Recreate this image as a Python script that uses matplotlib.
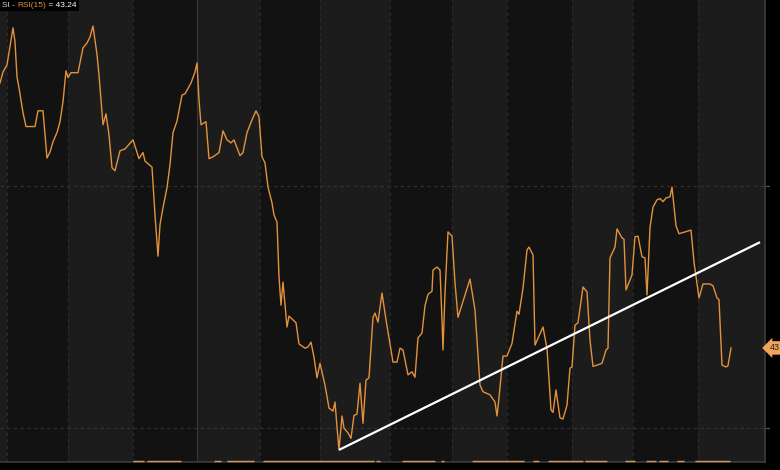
import matplotlib.pyplot as plt
import numpy as np
from matplotlib.offsetbox import TextArea, HPacker, AnchoredOffsetbox

# RSI(15) trace: bar position and value
t = [0, 3, 7, 9, 13, 15, 17, 19, 23, 26, 35, 38, 43, 47, 50, 53, 57, 60, 63, 66,
     68, 71, 78, 83, 87, 90, 93, 97, 99, 103, 106, 109, 112, 115, 120, 125, 133, 139, 143, 145,
     152, 155, 158, 160, 163, 167, 170, 173, 177, 182, 185, 191, 195, 197, 199, 201, 206, 209, 213, 219,
     223, 227, 231, 234, 240, 243, 247, 252, 256, 259, 262, 265, 268, 272, 274, 277, 279, 281, 283, 287,
     289, 296, 299, 305, 308, 311, 314, 317, 320, 325, 329, 333, 335, 337, 339, 342, 344, 348, 351, 354,
     357, 360, 363, 366, 369, 373, 375, 378, 382, 386, 393, 397, 400, 403, 408, 412, 415, 418, 422, 425,
     428, 432, 433, 437, 440, 442, 443, 445, 448, 452, 455, 458, 465, 470, 475, 480, 483, 490, 495, 497,
     499, 503, 507, 512, 517, 519, 523, 527, 529, 533, 535, 543, 547, 551, 553, 556, 560, 563, 567, 570,
     572, 575, 578, 583, 587, 590, 593, 597, 602, 606, 608, 610, 615, 617, 622, 624, 626, 632, 635, 638,
     642, 645, 647, 650, 653, 657, 660, 663, 666, 670, 672, 676, 679, 685, 691, 694, 699, 703, 710, 713,
     717, 719, 722, 726, 728, 731]
rsi = [87.0, 88.8, 90.0, 92.0, 96.1, 93.8, 88.0, 86.2, 82.1, 79.8, 79.8, 82.4, 82.4, 74.6, 75.6, 77.3, 78.8, 80.6, 83.9, 89.0,
       87.9, 88.7, 88.7, 92.8, 93.6, 94.6, 96.4, 91.7, 88.3, 80.1, 81.9, 78.4, 73.0, 72.5, 75.8, 76.1, 77.6, 74.5, 75.5, 74.1,
       73.1, 65.2, 58.4, 63.6, 66.4, 69.7, 73.5, 78.8, 80.7, 85.0, 85.2, 87.0, 88.8, 90.3, 84.2, 80.1, 80.6, 74.5, 74.8, 75.5,
       79.1, 77.6, 77.1, 77.6, 75.0, 75.5, 78.8, 80.9, 82.4, 81.4, 74.8, 73.8, 69.8, 67.2, 65.2, 64.0, 55.0, 50.3, 54.1, 46.7,
       48.5, 47.4, 43.9, 43.2, 43.4, 44.2, 41.7, 38.3, 40.7, 37.1, 33.3, 32.8, 34.3, 30.2, 26.4, 32.0, 30.0, 29.2, 28.3, 32.1,
       32.3, 37.4, 30.8, 37.9, 38.3, 48.3, 49.0, 47.5, 52.3, 47.9, 40.9, 40.9, 43.2, 42.9, 38.8, 39.3, 38.4, 44.9, 45.7, 50.2,
       52.1, 52.6, 56.1, 56.6, 56.1, 47.9, 42.9, 52.3, 62.4, 61.7, 54.0, 48.3, 52.0, 54.6, 49.5, 37.1, 36.0, 35.5, 34.3, 32.0,
       35.0, 41.9, 41.9, 44.0, 49.3, 48.8, 53.1, 59.4, 59.9, 58.6, 43.7, 46.7, 43.1, 33.0, 32.6, 36.3, 31.7, 31.5, 33.8, 39.9,
       40.1, 47.0, 47.4, 53.3, 52.5, 44.5, 40.2, 40.4, 40.7, 42.9, 43.2, 58.1, 59.9, 62.9, 61.4, 61.2, 52.8, 55.3, 61.6, 61.7,
       58.3, 58.1, 52.0, 63.1, 66.5, 67.7, 67.9, 67.4, 68.0, 68.2, 69.8, 63.4, 62.1, 62.4, 62.7, 57.4, 51.5, 53.8, 53.8, 53.5,
       51.5, 51.2, 40.4, 40.1, 40.3, 43.24]

# trend line drawn on the chart
trend_t = [339, 760]
trend_v = [26.4, 60.7]

# month starts (197 = new year)
month_starts = [7, 68, 133, 197, 260, 320, 390, 452, 507, 572, 633, 698]
year_start = 197
levels = [30, 70]

# orange marker spans along the bottom edge
spans = [(133, 144), (147, 181), (214, 221), (227, 254), (263, 374), (376, 380),
         (402, 435), (441, 444), (472, 524), (533, 539), (548, 583), (585, 607),
         (625, 635), (646, 656), (659, 668), (677, 684), (695, 730)]

last = rsi[-1]
orange = '#e3923c'
light, dark = '#1c1c1c', '#121212'

fig = plt.figure(figsize=(7.8, 4.7), dpi=100, facecolor='black')
ax = fig.add_axes([0, 0.017, 765 / 780, 0.983])
ax.set_facecolor(dark)
ax.set_xlim(0, 765)
ax.set_ylim(24.4, 100.7)

# alternating month bands
edges = [0] + month_starts + [765]
for i in range(len(edges) - 1):
    ax.axvspan(edges[i], edges[i + 1], color=light if i % 2 == 0 else dark, lw=0, zorder=0)

for m in month_starts:
    if m == year_start:
        ax.axvline(m, color='#383838', lw=0.8, zorder=1)
    else:
        ax.axvline(m, color='#2c2c2c', lw=0.8, ls=(0, (3, 3)), zorder=1)
for lv in levels:
    ax.axhline(lv, color='#333333', lw=0.8, ls=(0, (3, 3)), zorder=1)
    ax.plot([1.0, 1.005], [lv, lv], transform=ax.get_yaxis_transform(),
            color='#555555', lw=0.8, clip_on=False)

ax.plot(t, rsi, color=orange, lw=1.0, zorder=3)
ax.plot(trend_t, trend_v, color='white', lw=1.6, zorder=4, solid_capstyle='butt')

for a, b in spans:
    ax.plot([a, b], [24.55, 24.55], color='#d8965a', lw=1.0, zorder=5, clip_on=False,
            solid_capstyle='butt')

ax.set_xticks([])
ax.set_yticks([])
for s in ['left', 'top']:
    ax.spines[s].set_visible(False)
for s in ['right', 'bottom']:
    ax.spines[s].set_color('#3c3c3c')
    ax.spines[s].set_linewidth(1.2)

# header label
parts = [('SI - ', '#d8d8d8'), ('RSI(15)', orange), (f' = {last:.2f}', 'white')]
boxes = [TextArea(s, textprops=dict(color=c, fontsize=6, family='Liberation Sans'))
         for s, c in parts]
pack = HPacker(children=boxes, align='baseline', pad=0, sep=0)
anch = AnchoredOffsetbox(loc='upper left', child=pack, pad=0.15, borderpad=0,
                         frameon=True, bbox_to_anchor=(0, 1), bbox_transform=ax.transAxes)
anch.patch.set_facecolor('black')
anch.patch.set_edgecolor('none')
ax.add_artist(anch)

# last value tag (cut by the figure edge, as in the source)
ax.text(1.006, last, f'{last:.0f}', transform=ax.get_yaxis_transform(), fontsize=6.5,
        family='Liberation Sans', color='#222222', va='center', ha='left', clip_on=False,
        bbox=dict(boxstyle='larrow,pad=0.25', fc='#f0a55a', ec='none'))

fig.savefig('out.png', dpi=100, facecolor='black')
